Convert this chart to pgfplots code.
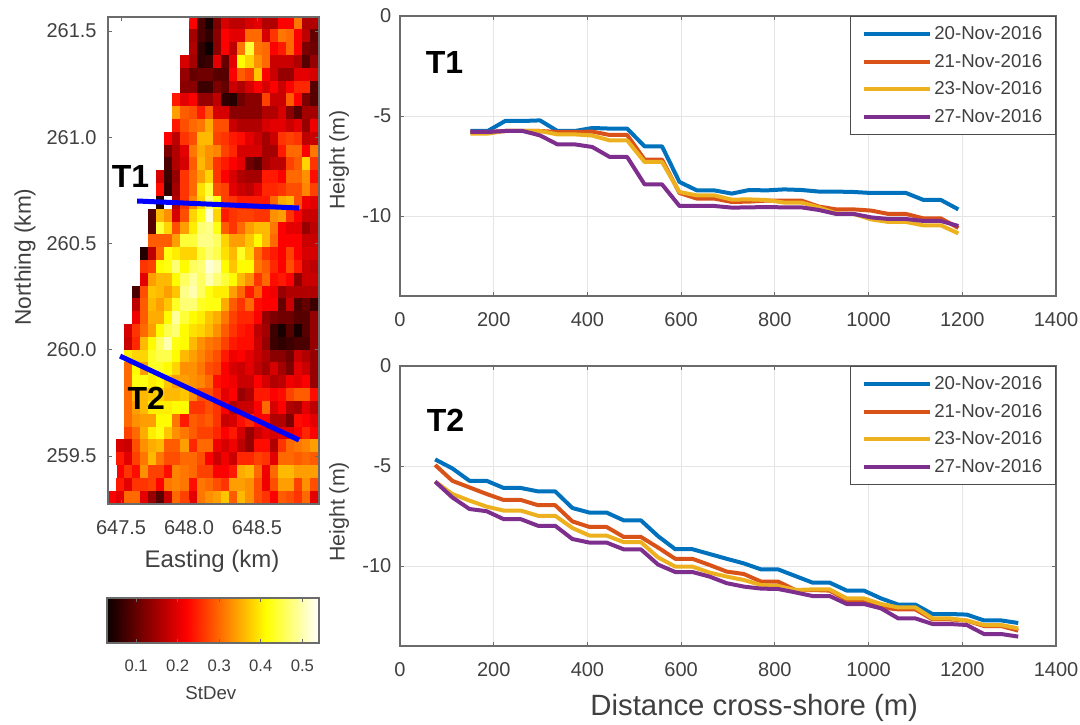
\documentclass[border=0pt]{standalone}
\usepackage{fontspec}
\setmainfont{Liberation Sans}
\usepackage{pgfplots}
\pgfplotsset{compat=1.18}
\definecolor{txt}{gray}{0.25}
\definecolor{frm}{gray}{0.42}
\definecolor{cA}{HTML}{0072BD}
\definecolor{cB}{HTML}{D95319}
\definecolor{cC}{HTML}{EDB120}
\definecolor{cD}{HTML}{7E2F8E}
\pgfplotsset{
  colormap={hotm}{rgb255(0cm)=(10,0,0) rgb255(3cm)=(255,0,0) rgb255(6cm)=(255,255,0) rgb255(8cm)=(255,255,255)},
  base/.style={scale only axis, axis line style={frm,line width=0.8pt}, tick style={frm,line width=0.6pt},
    major tick length=3pt, tick align=inside, text=txt,
    ticklabel style={font=\fontsize{15}{18}\selectfont,text=txt},
    xticklabel style={yshift=-9pt},
    label style={text=txt}},
  prof/.style={base, width=492pt, height=210pt, xmin=0, xmax=1400, ymin=-14, ymax=0,
    xtick={0,200,400,600,800,1000,1200,1400}, xticklabels={0,200,400,600,800,1000,1200,1400},
    ytick={-10,-5,0}, yticklabels={-10,-5,0}, yticklabel style={xshift=-3pt},
    grid=major, grid style={gray!20,line width=0.7pt},
    ylabel={Height (m)},
    ylabel style={font=\fontsize{16}{18}\selectfont,anchor=center},
    legend style={at={(1.0,1.0)},anchor=north east,draw=black!70,line width=0.7pt,font=\fontsize{14}{16}\selectfont,text=txt,
      row sep=5.5pt,inner xsep=8pt,inner ysep=5.5pt,fill=white},
    legend cell align=left,
    legend image code/.code={\draw[##1] (0pt,0pt) -- (49.5pt,0pt);},
    every axis plot/.append style={line width=3pt,line join=round}},
}
\begin{document}
\begin{tikzpicture}
\path[use as bounding box] (0pt,0pt) rectangle (810pt,543pt);
% ---------- heat map
\begin{axis}[base, at={(81pt,165pt)}, anchor=south west, width=158.25pt, height=365.25pt,
  xmin=647.404, xmax=648.956, ymin=259.274, ymax=261.566, axis on top, clip marker paths=true,
  xtick={647.5,648,648.5}, xticklabels={647.5,648.0,648.5},
  ytick={259.5,260,260.5,261,261.5}, yticklabels={259.5,260.0,260.5,261.0,261.5},
  yticklabel style={xshift=-5pt},
  xlabel={Easting (km)}, ylabel={Northing (km)},
  xlabel style={font=\fontsize{18}{20}\selectfont,at={(axis description cs:0.493,-0.117)},anchor=center},
  ylabel style={font=\fontsize{17}{20}\selectfont,at={(axis description cs:-0.393,0.507)},anchor=center},
  colormap name=hotm, point meta min=0.03, point meta max=0.54]
\addplot[scatter, only marks, mark=square*, mark size=1pt, mark options={xscale=3.08,yscale=4.85,line width=0pt},
  scatter/use mapped color={draw=mapped color,fill=mapped color}, point meta=explicit]
 table[row sep=crcr, x expr={647.404+(mod(\coordindex,26)+0.5)*0.05969}, y expr={261.566-(floor(\coordindex/26)+0.5)*0.06032}, meta expr={\thisrow{c}/100}] {
c\\
54\\54\\54\\54\\54\\54\\54\\54\\54\\54\\22\\8\\4\\12\\19\\17\\17\\19\\20\\16\\16\\22\\22\\31\\16\\16\\
54\\54\\54\\54\\54\\54\\54\\54\\54\\54\\15\\8\\6\\13\\22\\20\\20\\30\\30\\19\\26\\31\\30\\22\\17\\10\\
54\\54\\54\\54\\54\\54\\54\\54\\54\\54\\16\\6\\3\\13\\22\\17\\31\\44\\31\\30\\22\\24\\30\\22\\12\\11\\
54\\54\\54\\54\\54\\54\\54\\54\\54\\19\\15\\6\\7\\20\\10\\20\\41\\38\\33\\30\\18\\18\\18\\16\\9\\14\\
54\\54\\54\\54\\54\\54\\54\\54\\54\\14\\10\\11\\11\\9\\9\\22\\29\\27\\37\\22\\18\\14\\14\\20\\20\\19\\
54\\54\\54\\54\\54\\54\\54\\54\\54\\13\\13\\7\\7\\12\\10\\18\\16\\19\\22\\19\\22\\18\\22\\25\\25\\9\\
54\\54\\54\\54\\54\\54\\54\\54\\24\\20\\22\\14\\14\\17\\6\\5\\11\\13\\13\\27\\18\\18\\29\\22\\12\\9\\
54\\54\\54\\54\\54\\54\\54\\54\\34\\29\\28\\24\\29\\19\\19\\13\\13\\13\\13\\16\\16\\19\\13\\9\\15\\15\\
54\\54\\54\\54\\54\\54\\54\\54\\24\\28\\30\\31\\35\\28\\28\\18\\16\\16\\16\\19\\20\\20\\18\\20\\14\\21\\
54\\54\\54\\54\\54\\54\\54\\22\\17\\26\\28\\36\\36\\27\\26\\24\\23\\20\\18\\15\\18\\26\\27\\26\\17\\18\\
54\\54\\54\\54\\54\\54\\54\\12\\16\\20\\31\\35\\33\\32\\27\\25\\19\\19\\19\\15\\15\\24\\30\\30\\22\\31\\
54\\54\\54\\54\\54\\54\\54\\8\\16\\19\\29\\36\\33\\26\\24\\22\\20\\11\\9\\15\\17\\17\\27\\29\\38\\26\\
54\\54\\54\\54\\54\\54\\19\\7\\14\\26\\30\\34\\38\\26\\22\\19\\16\\15\\15\\24\\24\\22\\30\\30\\33\\23\\
54\\54\\54\\54\\54\\54\\23\\6\\15\\26\\30\\39\\44\\28\\27\\20\\18\\17\\20\\25\\25\\26\\28\\28\\32\\27\\
54\\54\\54\\54\\54\\54\\5\\54\\16\\26\\32\\38\\47\\42\\27\\26\\24\\24\\24\\24\\30\\35\\36\\28\\21\\20\\
54\\54\\54\\54\\54\\9\\36\\33\\19\\28\\38\\42\\52\\38\\24\\26\\27\\27\\26\\26\\33\\34\\26\\22\\18\\18\\
54\\54\\54\\54\\54\\9\\44\\38\\28\\34\\40\\47\\48\\42\\29\\26\\30\\34\\36\\36\\31\\22\\20\\20\\14\\17\\
54\\54\\54\\54\\54\\29\\29\\29\\34\\44\\44\\48\\48\\46\\38\\34\\34\\37\\41\\36\\30\\22\\22\\22\\18\\18\\
54\\54\\54\\54\\5\\17\\30\\42\\40\\38\\38\\44\\47\\45\\39\\36\\43\\38\\30\\26\\24\\22\\27\\22\\19\\19\\
54\\54\\54\\54\\26\\27\\41\\42\\47\\41\\46\\47\\52\\50\\41\\37\\41\\41\\31\\29\\25\\22\\28\\24\\18\\17\\
54\\54\\54\\54\\20\\34\\36\\36\\41\\46\\49\\46\\50\\47\\44\\41\\36\\33\\26\\30\\23\\24\\22\\13\\18\\18\\
54\\54\\54\\8\\28\\37\\36\\34\\37\\48\\50\\46\\42\\40\\40\\34\\30\\24\\29\\22\\21\\14\\16\\16\\16\\16\\
54\\54\\54\\17\\29\\36\\34\\37\\43\\47\\47\\43\\42\\42\\35\\29\\26\\30\\23\\22\\22\\10\\18\\8\\10\\7\\
54\\54\\54\\21\\29\\35\\35\\41\\49\\44\\41\\40\\37\\35\\31\\27\\25\\25\\22\\14\\12\\11\\11\\9\\9\\14\\
54\\54\\19\\26\\30\\34\\41\\45\\47\\41\\39\\38\\36\\33\\29\\26\\24\\23\\17\\15\\7\\4\\9\\4\\9\\14\\
54\\54\\18\\25\\36\\41\\46\\50\\42\\41\\36\\33\\31\\30\\27\\24\\23\\23\\18\\14\\7\\6\\7\\8\\8\\14\\
54\\54\\40\\38\\38\\43\\45\\45\\41\\36\\34\\32\\30\\28\\24\\21\\22\\20\\18\\16\\13\\13\\11\\18\\16\\14\\
54\\54\\30\\41\\34\\43\\43\\41\\38\\33\\33\\31\\28\\27\\22\\19\\18\\20\\17\\15\\19\\15\\12\\20\\18\\14\\
54\\54\\30\\42\\42\\40\\41\\37\\34\\34\\33\\32\\30\\23\\22\\21\\18\\18\\22\\19\\16\\17\\21\\20\\22\\14\\
54\\54\\30\\36\\36\\37\\38\\36\\36\\37\\33\\28\\28\\25\\20\\22\\14\\16\\24\\24\\22\\23\\27\\29\\29\\23\\
54\\54\\30\\34\\36\\40\\40\\40\\41\\41\\26\\26\\28\\26\\22\\16\\18\\18\\22\\30\\19\\22\\16\\15\\20\\17\\
54\\54\\30\\33\\34\\34\\41\\41\\31\\24\\29\\28\\29\\26\\18\\19\\23\\25\\22\\22\\16\\16\\12\\23\\22\\20\\
54\\54\\27\\30\\35\\40\\42\\37\\33\\31\\29\\27\\27\\25\\22\\24\\19\\14\\18\\20\\19\\20\\20\\22\\25\\22\\
54\\19\\18\\28\\33\\35\\36\\29\\29\\34\\25\\30\\30\\21\\19\\21\\17\\14\\23\\23\\16\\26\\30\\31\\32\\34\\
54\\24\\20\\27\\31\\36\\31\\28\\28\\30\\30\\28\\22\\18\\21\\18\\25\\25\\27\\26\\20\\30\\30\\29\\30\\29\\
54\\22\\26\\23\\33\\27\\27\\23\\32\\31\\30\\27\\27\\22\\22\\24\\35\\36\\30\\21\\30\\36\\36\\34\\34\\34\\
54\\24\\20\\26\\26\\27\\22\\31\\32\\31\\23\\31\\30\\28\\26\\34\\34\\33\\28\\21\\28\\34\\34\\27\\33\\28\\
22\\20\\30\\30\\20\\14\\9\\18\\30\\27\\20\\31\\33\\34\\37\\29\\36\\33\\28\\26\\22\\29\\28\\26\\30\\20\\
};
\addplot[blue,line width=3.75pt,forget plot] coordinates {(647.618,260.70) (648.809,260.667)};
\addplot[blue,line width=3.75pt,forget plot] coordinates {(647.493,259.97) (648.809,259.575)};
\node[font=\fontsize{24}{28}\bfseries\selectfont,text=black] at (axis cs:647.57,260.815) {T1};
\node[font=\fontsize{24}{28}\bfseries\selectfont,text=black] at (axis cs:647.686,259.77) {T2};
\end{axis}
% ---------- colour bar
\begin{axis}[base, at={(80.25pt,60.75pt)}, anchor=south west, width=159pt, height=33.75pt,
  xmin=0.03, xmax=0.54, ymin=0, ymax=1, ytick=\empty, axis on top,
  xtick={0.1,0.2,0.3,0.4,0.5}, xticklabels={0.1,0.2,0.3,0.4,0.5},
  ticklabel style={font=\fontsize{12.5}{15}\selectfont,text=txt},
  xlabel={StDev}, xlabel style={font=\fontsize{14}{15}\selectfont,at={(axis description cs:0.49,-1.11)},anchor=center},
  colormap name=hotm, point meta min=0.03, point meta max=0.54]
\addplot[surf, shader=interp, mesh/cols=2, mesh/rows=2, point meta=x] coordinates {(0.03,0) (0.54,0) (0.03,1) (0.54,1)};
\end{axis}
% ---------- T1 profile
\begin{axis}[prof, at={(300pt,321pt)}, anchor=south west,
  ylabel style={at={(axis description cs:-0.093,0.486)}}]
\addplot[cA] coordinates {(150,-5.75)(187.2,-5.75)(224.4,-5.25)(261.6,-5.25)(298.8,-5.22)(336,-5.75)(373.2,-5.75)(410.4,-5.6)(447.6,-5.63)(484.8,-5.63)(522,-6.52)(559.2,-6.52)(596.4,-8.3)(633.6,-8.72)(670.8,-8.72)(708,-8.88)(745.2,-8.7)(782.4,-8.72)(819.6,-8.67)(856.8,-8.7)(894,-8.78)(931.2,-8.78)(968.4,-8.8)(1005.6,-8.85)(1042.8,-8.85)(1080,-8.85)(1117.2,-9.2)(1154.4,-9.2)(1191.6,-9.67)};
\addplot[cB] coordinates {(150,-5.8)(187.2,-5.8)(224.4,-5.75)(261.6,-5.75)(298.8,-5.75)(336,-5.8)(373.2,-5.8)(410.4,-5.78)(447.6,-5.95)(484.8,-5.95)(522,-7.18)(559.2,-7.18)(596.4,-8.85)(633.6,-9.13)(670.8,-9.13)(708,-9.3)(745.2,-9.28)(782.4,-9.23)(819.6,-9.23)(856.8,-9.23)(894,-9.53)(931.2,-9.67)(968.4,-9.67)(1005.6,-9.73)(1042.8,-9.9)(1080,-9.9)(1117.2,-10.12)(1154.4,-10.12)(1191.6,-10.6)};
\addplot[cC] coordinates {(150,-5.88)(187.2,-5.88)(224.4,-5.75)(261.6,-5.75)(298.8,-5.75)(336,-5.92)(373.2,-5.92)(410.4,-5.98)(447.6,-6.22)(484.8,-6.22)(522,-7.3)(559.2,-7.3)(596.4,-8.8)(633.6,-8.97)(670.8,-8.97)(708,-9.18)(745.2,-9.17)(782.4,-9.2)(819.6,-9.33)(856.8,-9.33)(894,-9.57)(931.2,-9.87)(968.4,-9.9)(1005.6,-10.17)(1042.8,-10.3)(1080,-10.3)(1117.2,-10.47)(1154.4,-10.47)(1191.6,-10.87)};
\addplot[cD] coordinates {(150,-5.8)(187.2,-5.8)(224.4,-5.75)(261.6,-5.75)(298.8,-5.97)(336,-6.42)(373.2,-6.42)(410.4,-6.55)(447.6,-7.05)(484.8,-7.05)(522,-8.42)(559.2,-8.42)(596.4,-9.5)(633.6,-9.5)(670.8,-9.5)(708,-9.58)(745.2,-9.57)(782.4,-9.55)(819.6,-9.57)(856.8,-9.57)(894,-9.7)(931.2,-9.9)(968.4,-9.9)(1005.6,-10.07)(1042.8,-10.15)(1080,-10.15)(1117.2,-10.25)(1154.4,-10.25)(1191.6,-10.5)};
\legend{20-Nov-2016,21-Nov-2016,23-Nov-2016,27-Nov-2016}
\node[font=\fontsize{24}{28}\bfseries\selectfont,text=black] at (axis cs:95,-2.35) {T1};
\end{axis}
% ---------- T2 profile
\begin{axis}[prof, at={(300pt,58.5pt)}, anchor=south west,
  ylabel style={at={(axis description cs:-0.093,0.479)}},
  xlabel={Distance cross-shore (m)},
  xlabel style={font=\fontsize{22}{24}\selectfont,at={(axis description cs:0.54,-0.221)},anchor=center}]
\addplot[cA] coordinates {(75,-4.67)(111.6,-5.12)(148.2,-5.74)(184.8,-5.74)(221.4,-6.1)(258,-6.1)(294.6,-6.27)(331.2,-6.27)(367.8,-7.1)(404.4,-7.33)(441,-7.33)(477.6,-7.72)(514.2,-7.72)(550.8,-8.51)(587.4,-9.16)(624,-9.16)(660.6,-9.4)(697.2,-9.64)(733.8,-9.87)(770.4,-10.17)(807,-10.17)(843.6,-10.5)(880.2,-10.83)(916.8,-10.83)(953.4,-11.23)(990,-11.23)(1026.6,-11.62)(1063.2,-11.93)(1099.8,-11.93)(1136.4,-12.4)(1173,-12.4)(1209.6,-12.43)(1246.2,-12.72)(1282.8,-12.72)(1319.4,-12.85)};
\addplot[cB] coordinates {(75,-4.95)(111.6,-5.74)(148.2,-6.07)(184.8,-6.4)(221.4,-6.7)(258,-6.7)(294.6,-6.96)(331.2,-6.96)(367.8,-7.77)(404.4,-8.05)(441,-8.05)(477.6,-8.55)(514.2,-8.55)(550.8,-9.08)(587.4,-9.64)(624,-9.64)(660.6,-9.95)(697.2,-10.28)(733.8,-10.4)(770.4,-10.78)(807,-10.78)(843.6,-11.2)(880.2,-11.2)(916.8,-11.23)(953.4,-11.7)(990,-11.7)(1026.6,-12.07)(1063.2,-12.17)(1099.8,-12.17)(1136.4,-12.67)(1173,-12.67)(1209.6,-12.73)(1246.2,-13)(1282.8,-13)(1319.4,-13.23)};
\addplot[cC] coordinates {(75,-5.78)(111.6,-6.4)(148.2,-6.73)(184.8,-7.03)(221.4,-7.23)(258,-7.23)(294.6,-7.49)(331.2,-7.49)(367.8,-8.1)(404.4,-8.48)(441,-8.48)(477.6,-8.81)(514.2,-8.81)(550.8,-9.57)(587.4,-10.03)(624,-10.03)(660.6,-10.33)(697.2,-10.53)(733.8,-10.7)(770.4,-10.95)(807,-11)(843.6,-11.2)(880.2,-11.17)(916.8,-11.17)(953.4,-11.62)(990,-11.62)(1026.6,-11.9)(1063.2,-12.07)(1099.8,-12.07)(1136.4,-12.62)(1173,-12.62)(1209.6,-12.73)(1246.2,-12.95)(1282.8,-12.95)(1319.4,-13.12)};
\addplot[cD] coordinates {(75,-5.78)(111.6,-6.57)(148.2,-7.15)(184.8,-7.26)(221.4,-7.66)(258,-7.66)(294.6,-7.99)(331.2,-7.99)(367.8,-8.65)(404.4,-8.83)(441,-8.83)(477.6,-9.17)(514.2,-9.17)(550.8,-9.93)(587.4,-10.3)(624,-10.3)(660.6,-10.53)(697.2,-10.86)(733.8,-11.03)(770.4,-11.13)(807,-11.15)(843.6,-11.32)(880.2,-11.5)(916.8,-11.5)(953.4,-11.9)(990,-11.9)(1026.6,-12.12)(1063.2,-12.62)(1099.8,-12.62)(1136.4,-12.9)(1173,-12.9)(1209.6,-12.95)(1246.2,-13.4)(1282.8,-13.4)(1319.4,-13.53)};
\legend{20-Nov-2016,21-Nov-2016,23-Nov-2016,27-Nov-2016}
\node[font=\fontsize{24}{28}\bfseries\selectfont,text=black] at (axis cs:97,-2.7) {T2};
\end{axis}
\end{tikzpicture}
\end{document}
